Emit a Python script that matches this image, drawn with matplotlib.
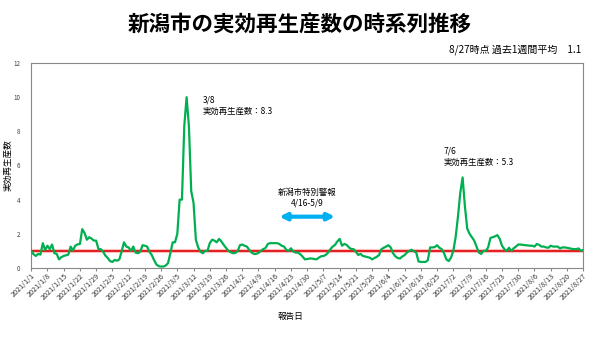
import pandas as pd
import matplotlib
matplotlib.use('Agg')
import matplotlib.pyplot as plt

plt.rcParams['font.family'] = ['Noto Sans CJK JP', 'DejaVu Sans']

# 実効再生産数 (2021/1/1 - 2021/8/27, 日次)
dates = pd.date_range('2021-01-01', '2021-08-27', freq='D')
rt = [
    1.0, 0.8, 0.7, 0.82, 0.78, 1.45, 1.05, 1.3, 1.1, 1.37,
    0.86, 0.82, 0.5, 0.63, 0.7, 0.74, 0.78, 1.25, 1.02, 1.3,
    1.38, 1.4, 2.27, 2.05, 1.65, 1.8, 1.72, 1.6, 1.6, 1.1,
    1.1, 0.95, 0.72, 0.58, 0.4, 0.35, 0.47, 0.42, 0.5, 0.96,
    1.5, 1.25, 1.2, 1.0, 1.25, 0.9, 0.86, 0.94, 1.33, 1.3,
    1.25, 0.94, 0.75, 0.45, 0.2, 0.1, 0.08, 0.08, 0.14, 0.28,
    0.86, 1.5, 1.5, 2.0, 4.0, 4.0, 8.3, 10.0, 8.3, 4.5,
    3.8, 1.65, 1.2, 0.95, 0.86, 1.0, 1.0, 1.45, 1.65, 1.6,
    1.5, 1.7, 1.55, 1.35, 1.18, 1.0, 0.92, 0.86, 0.88, 0.98,
    1.33, 1.37, 1.3, 1.25, 1.06, 0.9, 0.82, 0.82, 0.88, 1.0,
    1.1, 1.16, 1.4, 1.45, 1.45, 1.45, 1.45, 1.4, 1.3, 1.25,
    1.06, 1.0, 1.15, 0.96, 0.9, 0.9, 0.8, 0.67, 0.5, 0.52,
    0.55, 0.55, 0.52, 0.5, 0.6, 0.68, 0.7, 0.76, 0.9, 1.1,
    1.25, 1.35, 1.55, 1.7, 1.3, 1.4, 1.35, 1.2, 1.1, 1.1,
    0.94, 0.76, 0.82, 0.7, 0.67, 0.63, 0.6, 0.5, 0.58, 0.65,
    0.76, 1.1, 1.18, 1.25, 1.33, 1.2, 0.86, 0.68, 0.58, 0.55,
    0.67, 0.75, 0.9, 1.0, 1.06, 0.98, 0.9, 0.38, 0.35, 0.35,
    0.35, 0.45, 1.2, 1.2, 1.22, 1.33, 1.18, 1.1, 0.86, 0.5,
    0.4, 0.6, 1.0, 1.8, 3.0, 4.4, 5.3, 3.6, 2.3, 2.0,
    1.8, 1.6, 1.25, 0.9, 0.82, 1.0, 1.0, 1.2, 1.75, 1.8,
    1.85, 1.92, 1.7, 1.3, 1.1, 1.0, 1.18, 1.0, 1.15, 1.25,
    1.37, 1.37, 1.35, 1.33, 1.32, 1.3, 1.3, 1.25, 1.4, 1.35,
    1.25, 1.25, 1.2, 1.18, 1.3, 1.25, 1.25, 1.25, 1.14, 1.2,
    1.2, 1.18, 1.15, 1.12, 1.1, 1.1, 1.14, 1.0, 1.05,
]
assert len(rt) == len(dates)

tick_dates = dates[::7]
tick_labels = [f'{d.year}/{d.month}/{d.day}' for d in tick_dates]

fig = plt.figure(figsize=(6, 3.37), dpi=100)
ax = fig.add_axes([0.052, 0.205, 0.92, 0.608])

ax.axhline(1.0, color='#ff9999', lw=3.0, alpha=0.6, zorder=2)
ax.axhline(1.0, color='#e00000', lw=1.2, zorder=3)
ax.plot(dates, rt, color='#00b050', lw=1.6, zorder=4)

ax.set_xlim(dates[0], dates[-1])
ax.set_ylim(0, 12)
ax.set_yticks(range(0, 13, 2))
ax.tick_params(axis='y', labelsize=4.5, length=0, pad=8, labelcolor='#404040')
ax.set_xticks(tick_dates)
ax.set_xticklabels(tick_labels, rotation=45, ha='right', rotation_mode='anchor',
                   fontsize=5.2, color='#333333')
ax.tick_params(axis='x', length=2, color='#888888', pad=1)
for s in ax.spines.values():
    s.set_color('#888888')
    s.set_linewidth(0.8)

ax.set_ylabel('実効再生産数', fontsize=6.2)
ax.yaxis.set_label_coords(-0.034, 0.5)
ax.set_xlabel('報告日', fontsize=6.2)
ax.xaxis.set_label_coords(0.469, -0.215)

# 注記
ax.text(dates[74], 10.1, '3/8\n実効再生産数：8.3', fontsize=6, va='top',
        linespacing=1.3)
ax.text(dates[178], 7.1, '7/6\n実効再生産数：5.3', fontsize=6, va='top',
        linespacing=1.3)
ax.text(dates[119], 4.7, '新潟市特別警報\n4/16-5/9', fontsize=6, va='top',
        ha='center', linespacing=1.3)
ax.annotate('', xy=(dates[107], 3.0), xytext=(dates[131], 3.0),
            arrowprops=dict(arrowstyle='<|-|>', color='#00b0f0', lw=3,
                            mutation_scale=10, shrinkA=0, shrinkB=0))

fig.text(0.5, 0.928, '新潟市の実効再生産数の時系列推移', ha='center', va='center',
         fontsize=15.5, fontweight='bold')
fig.text(0.968, 0.852, '8/27時点 過去1週間平均　1.1', ha='right', va='center',
         fontsize=7.2)

fig.savefig('out.png', dpi=100)
